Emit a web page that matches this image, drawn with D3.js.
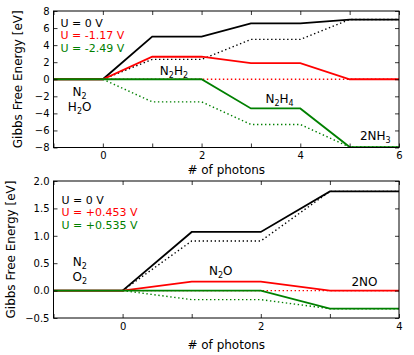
<!DOCTYPE html>
<html>
<head>
<meta charset="utf-8">
<script src="https://cdn.jsdelivr.net/npm/d3@7"></script>
<style>
  html, body { margin: 0; padding: 0; background: #fff; }
  svg { display: block; font-family: "DejaVu Sans", sans-serif; }
</style>
</head>
<body>
<svg id="chart" width="414" height="355"></svg>
<script>
// ---------- data: top panel (N2 reduction) ----------
const photonsTop = [-1, 0, 1, 2, 3, 4, 5, 6];
const photonsTopDotted = [0, 1, 2, 3, 4, 5, 6];
const topSolidU0 = [0, 0, 5.0, 5.0, 6.55, 6.55, 7.0, 7.0];
const topSolidU1 = [0, 0, 2.64, 2.64, 1.9, 1.9, 0, 0];
const topSolidU2 = [0, 0, 0, 0, -3.42, -3.42, -7.95, -7.95];
const topDottedU0 = [0, 2.33, 2.33, 4.67, 4.67, 7.0, 7.0];
const topDottedU1 = [0, 0, 0, 0, 0, 0, 0];
const topDottedU2 = [0, -2.65, -2.65, -5.3, -5.3, -7.95, -7.95];
const topLegend = ["U = 0 V", "U = -1.17 V", "U = -2.49 V"];
const topYTicks = [-8, -6, -4, -2, 0, 2, 4, 6, 8];
const topXTicks = [-1, 0, 1, 2, 3, 4, 5, 6];

// ---------- data: bottom panel (N2 oxidation) ----------
const photonsBottom = [-1, 0, 1, 2, 3, 4];
const photonsBottomDotted = [0, 1, 2, 3, 4];
const botSolidU0 = [0, 0, 1.07, 1.07, 1.81, 1.81];
const botSolidU1 = [0, 0, 0.164, 0.164, 0, 0];
const botSolidU2 = [0, 0, 0, 0, -0.33, -0.33];
const botDottedU0 = [0, 0.905, 0.905, 1.81, 1.81];
const botDottedU1 = [0, 0, 0, 0, 0];
const botDottedU2 = [0, -0.165, -0.165, -0.33, -0.33];
const botLegend = ["U = 0 V", "U = +0.453 V", "U = +0.535 V"];
const botYTicks = [-0.5, 0, 0.5, 1.0, 1.5, 2.0];
const botXTicks = [-1, 0, 1, 2, 3, 4];

const colors = ["#000000", "#ff0000", "#008000"];

const svg = d3.select("#chart");

function drawPanel(cfg) {
  const x = d3.scaleLinear().domain(cfg.xDomain).range([cfg.left, cfg.right]);
  const y = d3.scaleLinear().domain(cfg.yDomain).range([cfg.bottom, cfg.top]);
  const g = svg.append("g");

  // lines
  const line = d3.line().x(d => x(d[0])).y(d => y(d[1]));
  const plot = g.append("g");
  cfg.series.forEach((s, i) => {
    plot.append("path")
      .datum(s.xs.map((v, k) => [v, s.ys[k]]))
      .attr("d", line)
      .attr("fill", "none")
      .attr("stroke", s.color)
      .attr("stroke-width", s.dotted ? 1.4 : 1.8)
      .attr("stroke-dasharray", s.dotted ? "1.4,2.6" : null)
      .attr("stroke-linejoin", "miter");
  });

  // axes (ticks inward on all sides)
  const fmtX = d => (d % 2 === 0 ? d3.format("d")(d) : "");
  const axB = d3.axisBottom(x).tickValues(cfg.xTicks).tickSizeInner(-4).tickSizeOuter(0).tickPadding(4.5).tickFormat(fmtX);
  const axT = d3.axisTop(x).tickValues(cfg.xTicks).tickSizeInner(-4).tickSizeOuter(0).tickFormat("");
  const axL = d3.axisLeft(y).tickValues(cfg.yTicks).tickSizeInner(-4).tickSizeOuter(0).tickPadding(4).tickFormat(d3.format(cfg.yFmt));
  const axR = d3.axisRight(y).tickValues(cfg.yTicks).tickSizeInner(-4).tickSizeOuter(0).tickFormat("");

  const styleAxis = sel => {
    sel.select(".domain").remove();
    sel.selectAll(".tick line").attr("stroke", "#000").attr("stroke-width", 0.8);
    sel.selectAll("text").attr("font-size", 10).attr("fill", "#000").attr("font-family", "DejaVu Sans");
  };
  g.append("g").attr("transform", `translate(0,${cfg.bottom})`).call(axB).call(styleAxis);
  g.append("g").attr("transform", `translate(0,${cfg.top})`).call(axT).call(styleAxis);
  g.append("g").attr("transform", `translate(${cfg.left},0)`).call(axL).call(styleAxis);
  g.append("g").attr("transform", `translate(${cfg.right},0)`).call(axR).call(styleAxis);

  // frame
  g.append("rect")
    .attr("x", cfg.left).attr("y", cfg.top)
    .attr("width", cfg.right - cfg.left).attr("height", cfg.bottom - cfg.top)
    .attr("fill", "none").attr("stroke", "#000").attr("stroke-width", 1);

  // axis labels
  g.append("text")
    .attr("transform", `translate(${cfg.yLabelX},${(cfg.top + cfg.bottom) / 2}) rotate(-90)`)
    .attr("text-anchor", "middle").attr("font-size", 12).attr("fill", "#000")
    .text("Gibbs Free Energy [eV]");
  g.append("text")
    .attr("x", (cfg.left + cfg.right) / 2).attr("y", cfg.xLabelY)
    .attr("text-anchor", "middle").attr("font-size", 12).attr("fill", "#000")
    .text("# of photons");

  // legend: one coloured line per potential
  cfg.legend.forEach((t, i) => {
    g.append("text")
      .attr("x", cfg.left + cfg.legendDx)
      .attr("y", cfg.top + cfg.legendDy + i * 12.8)
      .attr("font-size", 11).attr("fill", colors[i])
      .text(t);
  });

  // chemical annotations
  cfg.notes.forEach(n => {
    const t = g.append("text")
      .attr("x", x(n.x)).attr("y", y(n.y))
      .attr("text-anchor", "middle").attr("font-size", 12).attr("fill", "#000");
    let sub = false;
    n.parts.forEach(p => {
      const isSub = !!p.sub;
      const ts = t.append("tspan").text(p.s);
      if (isSub && !sub) { ts.attr("dy", 3).attr("font-size", 8); sub = true; }
      else if (isSub && sub) { ts.attr("font-size", 8); }
      else if (!isSub && sub) { ts.attr("dy", -3); sub = false; }
    });
  });
}

drawPanel({
  left: 53.5, right: 399, top: 11, bottom: 147.5,
  xDomain: [-1, 6], yDomain: [-8, 8],
  xTicks: topXTicks, yTicks: topYTicks, yFmt: "d",
  yLabelX: 22, xLabelY: 174,
  legend: topLegend, legendDx: 7, legendDy: 15.5,
  series: [
    { xs: photonsTop, ys: topSolidU0, color: colors[0] },
    { xs: photonsTopDotted, ys: topDottedU0, color: colors[0], dotted: true },
    { xs: photonsTop, ys: topSolidU1, color: colors[1] },
    { xs: photonsTopDotted, ys: topDottedU1, color: colors[1], dotted: true },
    { xs: photonsTop, ys: topSolidU2, color: colors[2] },
    { xs: photonsTopDotted, ys: topDottedU2, color: colors[2], dotted: true }
  ],
  notes: [
    { x: -0.47, y: -2.02, parts: [{ s: "N" }, { s: "2", sub: true }] },
    { x: -0.47, y: -3.72, parts: [{ s: "H" }, { s: "2", sub: true }, { s: "O" }] },
    { x: 1.44, y: 0.5, parts: [{ s: "N" }, { s: "2", sub: true }, { s: "H" }, { s: "2", sub: true }] },
    { x: 3.58, y: -2.73, parts: [{ s: "N" }, { s: "2", sub: true }, { s: "H" }, { s: "4", sub: true }] },
    { x: 5.52, y: -7.12, parts: [{ s: "2NH" }, { s: "3", sub: true }] }
  ]
});

drawPanel({
  left: 53.5, right: 399, top: 181, bottom: 318,
  xDomain: [-1, 4], yDomain: [-0.5, 2.0],
  xTicks: botXTicks, yTicks: botYTicks, yFmt: ".1f",
  yLabelX: 15, xLabelY: 348.5,
  legend: botLegend, legendDx: 8, legendDy: 22.5,
  series: [
    { xs: photonsBottom, ys: botSolidU0, color: colors[0] },
    { xs: photonsBottomDotted, ys: botDottedU0, color: colors[0], dotted: true },
    { xs: photonsBottom, ys: botSolidU1, color: colors[1] },
    { xs: photonsBottomDotted, ys: botDottedU1, color: colors[1], dotted: true },
    { xs: photonsBottom, ys: botSolidU2, color: colors[2] },
    { xs: photonsBottomDotted, ys: botDottedU2, color: colors[2], dotted: true }
  ],
  notes: [
    { x: -0.62, y: 0.44, parts: [{ s: "N" }, { s: "2", sub: true }] },
    { x: -0.62, y: 0.18, parts: [{ s: "O" }, { s: "2", sub: true }] },
    { x: 1.42, y: 0.285, parts: [{ s: "N" }, { s: "2", sub: true }, { s: "O" }] },
    { x: 3.5, y: 0.093, parts: [{ s: "2NO" }] }
  ]
});
</script>
</body>
</html>
